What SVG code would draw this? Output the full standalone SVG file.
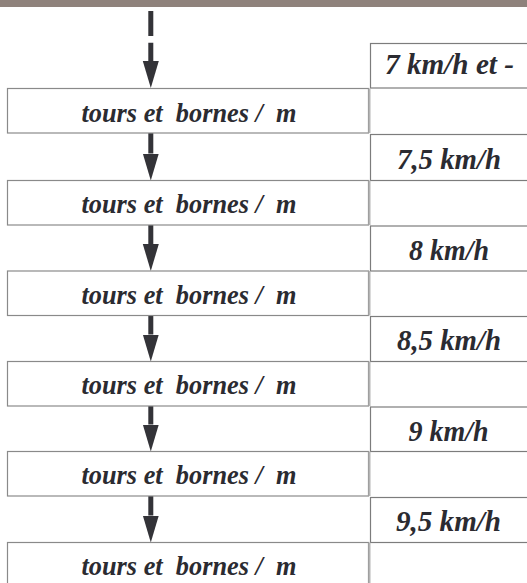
<svg xmlns="http://www.w3.org/2000/svg" width="527" height="583" viewBox="0 0 527 583">
<style>
.box{fill:#ffffff;stroke:#8a8a8a;stroke-width:1.2}
.cell{fill:#ffffff;stroke:#7c7c7c;stroke-width:1.2}
.edge{stroke:#b4b4b4;stroke-width:2}
.t{font-family:"Liberation Serif","Times New Roman",serif;font-weight:bold;font-style:italic;font-size:26.3px;fill:#2b2b31}
.l{font-family:"Liberation Serif","Times New Roman",serif;font-weight:bold;font-style:italic;font-size:28.5px;fill:#2b2b31}
.arr{stroke:#333338;stroke-width:5;fill:none}
</style>
<defs>
<marker id="head" markerUnits="userSpaceOnUse" markerWidth="28" markerHeight="18" viewBox="0 -9 28 18" refX="0" refY="0" orient="auto">
<path d="M0,-8 L27,0 L0,8 Z" fill="#333338"/>
</marker>
</defs>
<rect x="0" y="0" width="527" height="7" fill="#8f827c"/>
<g id="connectors">
<line class="arr" x1="150.8" y1="11" x2="150.8" y2="61" stroke-dasharray="25 6.7 100" marker-end="url(#head)"/>
<line class="arr" x1="150.8" y1="133" x2="150.8" y2="153.5" marker-end="url(#head)"/>
<line class="arr" x1="150.8" y1="225" x2="150.8" y2="244" marker-end="url(#head)"/>
<line class="arr" x1="150.8" y1="315.5" x2="150.8" y2="334.5" marker-end="url(#head)"/>
<line class="arr" x1="150.8" y1="406" x2="150.8" y2="424.5" marker-end="url(#head)"/>
<line class="arr" x1="150.8" y1="496" x2="150.8" y2="515.5" marker-end="url(#head)"/>
</g>
<g id="speed1"><rect class="cell" x="370.5" y="43.5" width="170" height="44.5"/><text class="l" x="385" y="73.5" textLength="129" lengthAdjust="spacingAndGlyphs">7 km/h et -</text></g>
<g id="speed2"><rect class="cell" x="370.5" y="134.5" width="170" height="46"/><text class="l" x="397" y="168.5" textLength="104" lengthAdjust="spacingAndGlyphs">7,5 km/h</text></g>
<g id="speed3"><rect class="cell" x="370.5" y="226" width="170" height="45"/><text class="l" x="409" y="259.5" textLength="80" lengthAdjust="spacingAndGlyphs">8 km/h</text></g>
<g id="speed4"><rect class="cell" x="370.5" y="316.5" width="170" height="45"/><text class="l" x="397" y="350" textLength="104" lengthAdjust="spacingAndGlyphs">8,5 km/h</text></g>
<g id="speed5"><rect class="cell" x="370.5" y="407" width="170" height="44.5"/><text class="l" x="408.5" y="440.5" textLength="80" lengthAdjust="spacingAndGlyphs">9 km/h</text></g>
<g id="speed6"><rect class="cell" x="370.5" y="497.5" width="170" height="45"/><text class="l" x="396" y="530.5" textLength="105" lengthAdjust="spacingAndGlyphs">9,5 km/h</text></g>
<g id="step1"><rect class="box" x="7.5" y="88.5" width="361" height="44.5"/><line class="edge" x1="369.5" y1="88.5" x2="369.5" y2="133"/><text class="t" x="81.5" y="121.5" textLength="215" lengthAdjust="spacingAndGlyphs" xml:space="preserve">tours et  bornes /  m</text></g>
<g id="step2"><rect class="box" x="7.5" y="180.5" width="361" height="44.5"/><line class="edge" x1="369.5" y1="180.5" x2="369.5" y2="225"/><text class="t" x="81.5" y="213.3" textLength="215" lengthAdjust="spacingAndGlyphs" xml:space="preserve">tours et  bornes /  m</text></g>
<g id="step3"><rect class="box" x="7.5" y="271" width="361" height="44.5"/><line class="edge" x1="369.5" y1="271" x2="369.5" y2="315.5"/><text class="t" x="81.5" y="303.8" textLength="215" lengthAdjust="spacingAndGlyphs" xml:space="preserve">tours et  bornes /  m</text></g>
<g id="step4"><rect class="box" x="7.5" y="361.5" width="361" height="44.5"/><line class="edge" x1="369.5" y1="361.5" x2="369.5" y2="406"/><text class="t" x="81.5" y="394.3" textLength="215" lengthAdjust="spacingAndGlyphs" xml:space="preserve">tours et  bornes /  m</text></g>
<g id="step5"><rect class="box" x="7.5" y="451.5" width="361" height="44.5"/><line class="edge" x1="369.5" y1="451.5" x2="369.5" y2="496"/><text class="t" x="81.5" y="484.3" textLength="215" lengthAdjust="spacingAndGlyphs" xml:space="preserve">tours et  bornes /  m</text></g>
<g id="step6"><rect class="box" x="7.5" y="542.5" width="361" height="44.5"/><line class="edge" x1="369.5" y1="542.5" x2="369.5" y2="587"/><text class="t" x="81.5" y="575.3" textLength="215" lengthAdjust="spacingAndGlyphs" xml:space="preserve">tours et  bornes /  m</text></g>
</svg>
